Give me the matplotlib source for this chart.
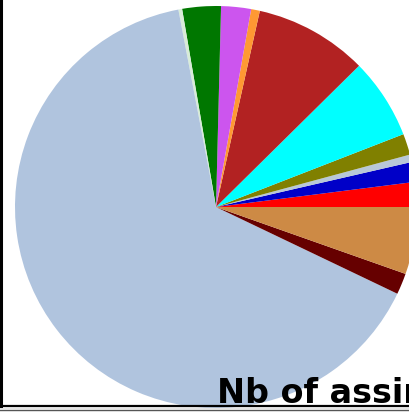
import matplotlib.pyplot as plt
from matplotlib.lines import Line2D
from matplotlib.patches import Rectangle

# share of each source (%), counter-clockwise from 3 o'clock
shares = [2.0, 1.6, 0.6, 1.7, 6.5, 9.1, 0.7, 2.4, 3.1, 0.3, 64.9, 1.7, 5.4]
colors = ['#ff0000', '#0000c8', '#b8c8d8', '#808000', '#00ffff', '#b22222',
          '#ff9933', '#cc55ee', '#007700', '#d8ecd8', '#b0c4de', '#660000', '#cd8a45']
title = 'Nb of assimilated observations'

W, H = 410, 412
fig = plt.figure(figsize=(W / 100, H / 100), dpi=100)

# pie centre and radius in pixels
cx, cy, r = 216, 207, 201
ax = fig.add_axes([(cx - r) / W, (H - cy - r) / H, 2 * r / W, 2 * r / H])
ax.pie(shares, colors=colors, startangle=0, counterclock=True,
       wedgeprops=dict(linewidth=0))
ax.set_xlim(-1, 1)
ax.set_ylim(-1, 1)
ax.set_aspect('equal')
ax.axis('off')

fig.text(217 / W, 1 - 403 / H, title, fontsize=24, fontweight='bold',
         family='DejaVu Sans', ha='left', va='baseline', color='black')

# frame lines on the left and at the bottom
fig.add_artist(Line2D([1.5 / W, 1.5 / W], [1, 1 - 406 / H], color='black',
                      linewidth=2.2, transform=fig.transFigure))
fig.add_artist(Line2D([0, 1], [1 - 406 / H, 1 - 406 / H], color='black',
                      linewidth=1.6, transform=fig.transFigure))
fig.add_artist(Rectangle((0, 0), 1, 4 / H, color='#e4e4e4',
                         transform=fig.transFigure))
fig.add_artist(Line2D([0, 1], [1 - 409.5 / H, 1 - 409.5 / H], color='#555555',
                      linewidth=0.8, transform=fig.transFigure))

fig.savefig('out.png', dpi=100)
